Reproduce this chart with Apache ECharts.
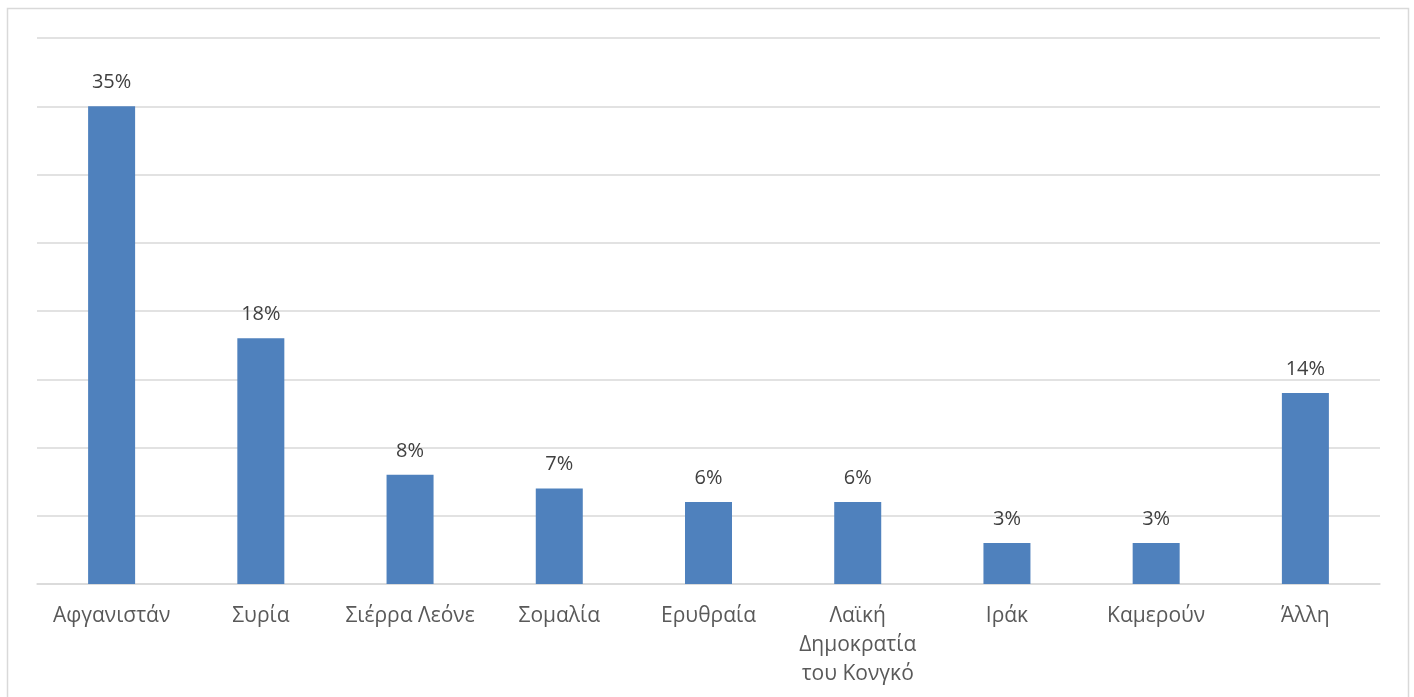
<!DOCTYPE html>
<html>
<head>
<meta charset="utf-8">
<script src="https://cdn.jsdelivr.net/npm/echarts@6/dist/echarts.min.js"></script>
<style>
html,body{margin:0;padding:0;background:#fff;}
#chart{width:1414px;height:697px;}
</style>
</head>
<body>
<div id="chart"></div>
<script>
const categories = ['Αφγανιστάν', 'Συρία', 'Σιέρρα Λεόνε', 'Σομαλία', 'Ερυθραία', 'Λαϊκή\nΔημοκρατία\nτου Κονγκό', 'Ιράκ', 'Καμερούν', 'Άλλη'];
const values = [35, 18, 8, 7, 6, 6, 3, 3, 14];

const chart = echarts.init(document.getElementById('chart'));
chart.setOption({
  animation: false,
  graphic: [{
    type: 'rect',
    shape: { x: 7.5, y: 8.5, width: 1401, height: 700 },
    style: { fill: 'none', stroke: '#d9d9d9', lineWidth: 1.5 },
    silent: true
  }],
  grid: { left: 37, right: 34, top: 38, bottom: 113 },
  xAxis: {
    type: 'category',
    data: categories,
    axisLine: { show: true, lineStyle: { color: '#d9d9d9', width: 1.5 } },
    axisTick: { show: false },
    axisLabel: {
      color: '#595959',
      fontFamily: 'Open Sans',
      fontSize: 21,
      lineHeight: 29,
      margin: 18,
      interval: 0
    }
  },
  yAxis: {
    type: 'value',
    min: 0,
    max: 40,
    interval: 5,
    axisLabel: { show: false },
    axisLine: { show: false },
    axisTick: { show: false },
    splitLine: { lineStyle: { color: '#d9d9d9', width: 1.5 } }
  },
  series: [{
    type: 'bar',
    data: values,
    barWidth: '31.5%',
    itemStyle: { color: '#4f81bd' },
    label: {
      show: true,
      position: 'top',
      distance: 14,
      formatter: '{c}%',
      color: '#404040',
      fontFamily: 'Open Sans',
      fontSize: 20
    }
  }]
});
</script>
</body>
</html>
